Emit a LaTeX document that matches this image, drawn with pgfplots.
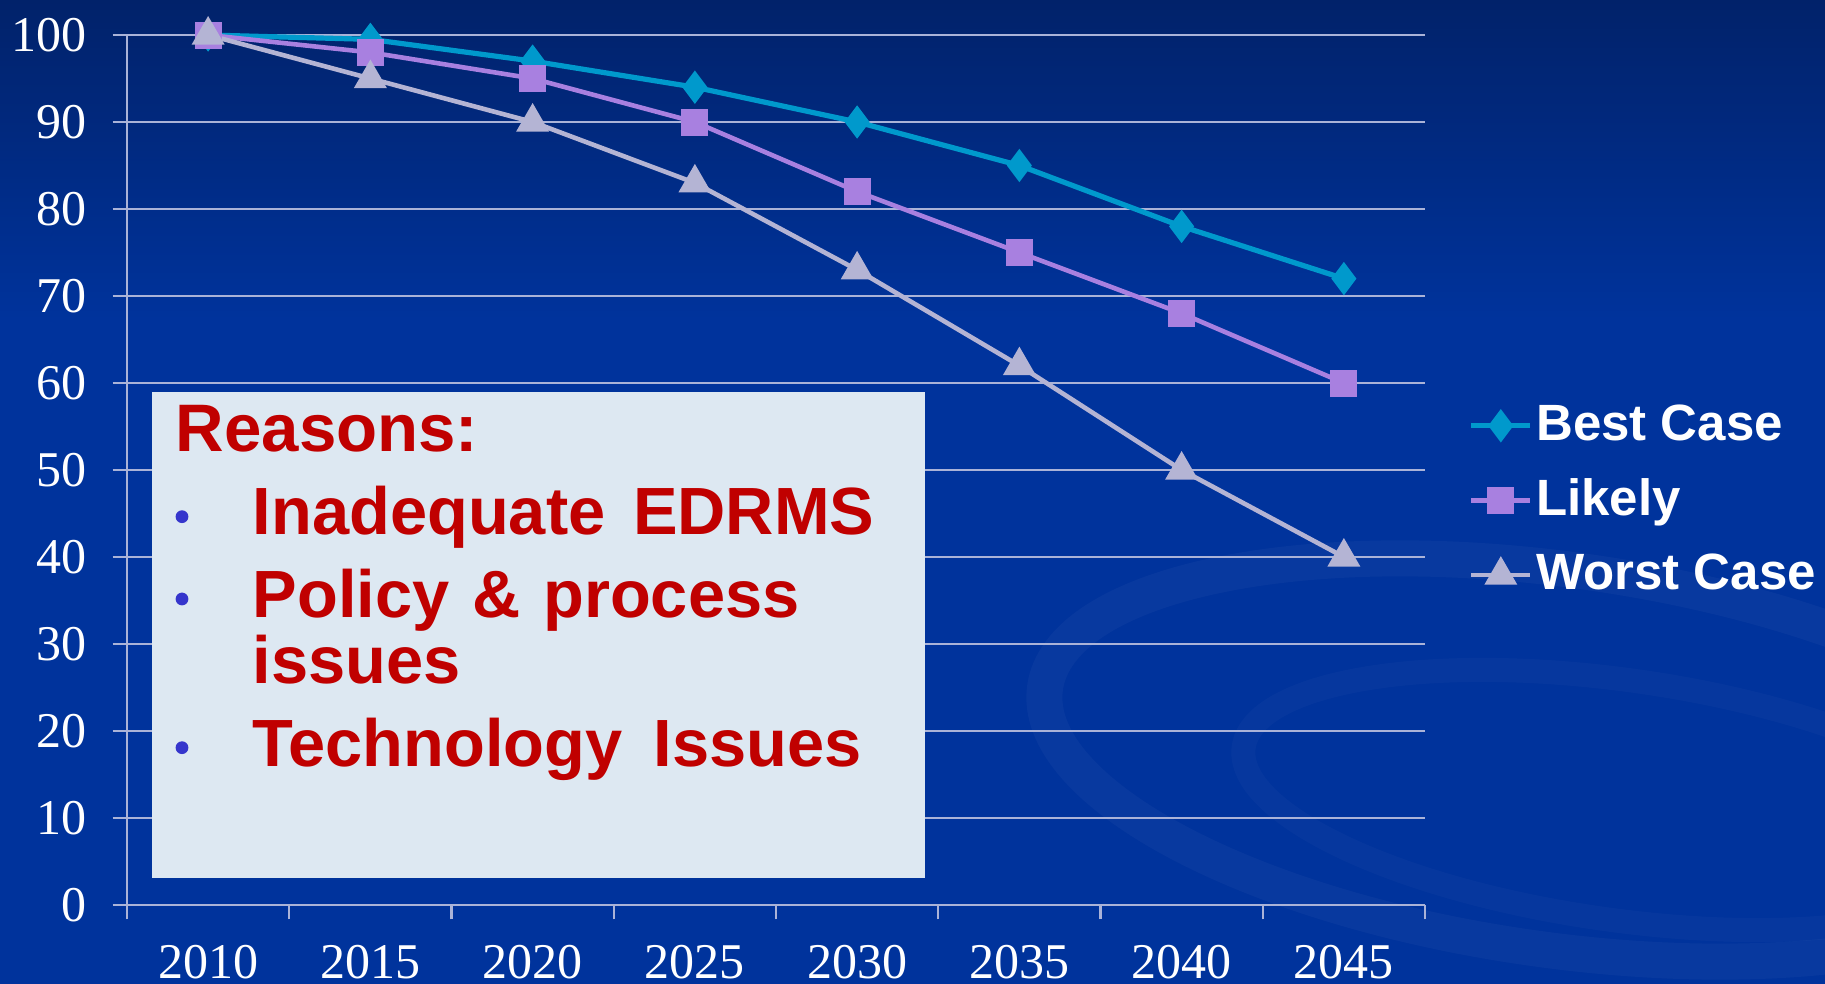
\documentclass[border=0pt]{standalone}
\usepackage{fontspec}
\setmainfont{Liberation Serif}
\setsansfont{Liberation Sans}
\usepackage{pgfplots}
\pgfplotsset{compat=1.18}
\definecolor{bgtop}{HTML}{01226A}
\definecolor{bgbot}{HTML}{00339C}
\definecolor{best}{HTML}{0099CC}
\definecolor{likely}{HTML}{A880E0}
\definecolor{worst}{HTML}{B4B4D4}
\definecolor{gridc}{HTML}{AAB3D8}
\definecolor{boxfill}{HTML}{DDE8F2}
\definecolor{reasonred}{HTML}{C00000}
\definecolor{bulletc}{HTML}{3535CC}
\begin{document}
\begin{tikzpicture}
\path[use as bounding box] (0pt,0pt) rectangle (456.25pt,-246pt);
\fill[bgbot] (0pt,0pt) rectangle (456.25pt,-246pt);
\shade[top color=bgtop, bottom color=bgbot] (0pt,0pt) rectangle (456.25pt,-80pt);
\begin{scope}[x=0.25pt,y=-0.25pt]
\draw[white, opacity=0.03, line width=9pt, rotate around={-8:(1560,760)}] (1560,760) ellipse (520 and 190);
\draw[white, opacity=0.025, line width=6pt, rotate around={-8:(1620,800)}] (1620,800) ellipse (380 and 120);
\end{scope}
\begin{axis}[
  at={(31.75pt,-226.25pt)}, anchor=south west,
  scale only axis, width=324.5pt, height=217.5pt,
  xmin=-0.5, xmax=7.5, ymin=0, ymax=100,
  xtick={-0.5,0.5,...,7.5}, x tick label as interval,
  xticklabels={2010,2015,2020,2025,2030,2035,2040,2045},
  ytick={0,10,...,100},
  axis x line*=bottom, axis y line*=left,
  axis line style={draw=gridc, line width=0.55pt, -},
  tick align=outside, major tick length=3.6pt,
  tick style={draw=gridc, line width=0.55pt},
  ymajorgrids, grid style={draw=gridc, line width=0.55pt},
  /pgf/number format/assume math mode=true,
  ticklabel style={font=\fontsize{12.5}{15}\selectfont, text=white},
  yticklabel style={xshift=-3pt},
  xticklabel style={yshift=-3pt},
  clip=false,
  legend style={at={(1.033,0.465)}, anchor=west, draw=none, fill=none,
    text=white, font=\sffamily\bfseries\fontsize{12.75}{15}\selectfont,
    inner sep=0pt, row sep=8.1pt,
    nodes={inner xsep=0.8pt, inner ysep=0pt}},
  legend cell align=left,
  legend image code/.code={\draw[mark repeat=2,mark phase=2,#1] plot coordinates {(0pt,0pt)(7.4pt,0pt)(14.8pt,0pt)};},
]
\addplot[color=best, line width=1.3pt, mark=diamond*, mark size=3.1pt, mark options={solid, fill=best}]
  coordinates {(0,100) (1,99.5) (2,97) (3,94) (4,90) (5,85) (6,78) (7,72)};
\addlegendentry{Best Case}
\addplot[color=likely, line width=1.15pt, mark=square*, mark size=2.8pt, mark options={solid, fill=likely}]
  coordinates {(0,100) (1,98) (2,95) (3,90) (4,82) (5,75) (6,68) (7,60)};
\addlegendentry{Likely}
\addplot[color=worst, line width=1.15pt, mark=triangle*, mark size=3.6pt, mark options={solid, fill=worst}]
  coordinates {(0,100) (1,95) (2,90) (3,83) (4,73) (5,62) (6,50) (7,40)};
\addlegendentry{Worst Case}
\end{axis}
\begin{scope}[x=0.25pt,y=-0.25pt]
\fill[boxfill] (152,392) rectangle (925,878);
\node[anchor=base west, inner sep=0pt, text=reasonred, font=\sffamily\bfseries\fontsize{16.8}{18}\selectfont] at (175,451.7) {Reasons:};
\foreach \yy in {516.7,599,747.7} {\fill[bulletc] (182,\yy) circle (1.6pt);}
\begin{scope}[every node/.style={anchor=base west, inner sep=0pt, text=reasonred, font=\sffamily\bfseries\fontsize{16.7}{18}\selectfont}]
\node at (252,535) {Inadequate\hspace{6.9pt}EDRMS};
\node at (252,617.3) {Policy\hspace{5.7pt}\&\hspace{5.7pt}process};
\node at (252,683.3) {issues};
\node at (252,766.7) {Technology\hspace{7.8pt}Issues};
\end{scope}
\end{scope}
\end{tikzpicture}
\end{document}
